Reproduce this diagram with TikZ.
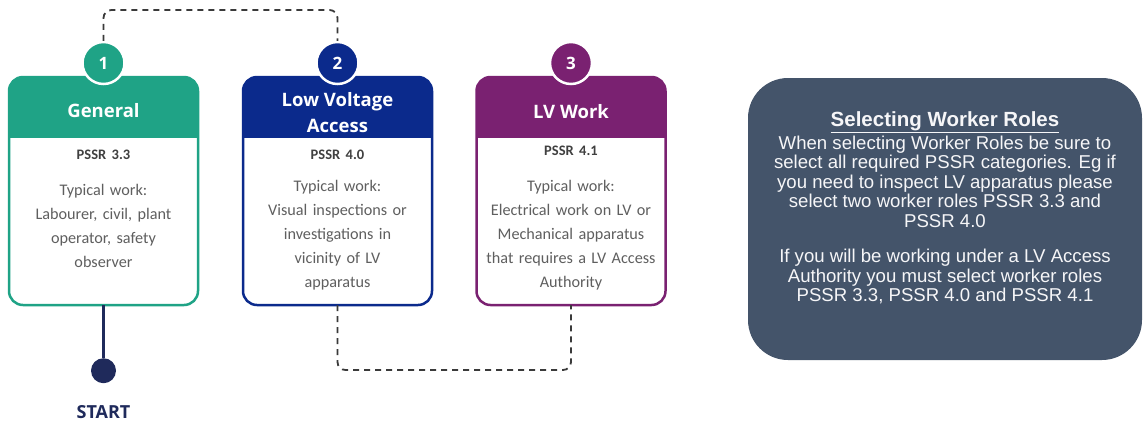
\documentclass[tikz,border=0pt]{standalone}
\usepackage{fontspec}
\setmainfont{Carlito}
\newfontfamily\headfont{Open Sans}
\newfontfamily\notefont{Liberation Sans}
\usetikzlibrary{positioning}

\definecolor{genGreen}{HTML}{1FA386}
\definecolor{lvaBlue}{HTML}{0B2A8C}
\definecolor{lvwPurple}{HTML}{7A2171}
\definecolor{noteSlate}{HTML}{44546A}
\definecolor{startNavy}{HTML}{1F2A5B}
\definecolor{bodyGrey}{HTML}{5F5F5F}
\definecolor{linkGrey}{HTML}{3A3A3A}

\begin{document}
\begin{tikzpicture}[x=1pt,y=-1pt,
  cardspot/.style={rectangle, inner sep=0pt, outer sep=0pt, minimum width=189pt, minimum height=228pt},
  numcirc/.style={circle, fill=#1, draw=white, line width=2.5pt, minimum size=42pt, inner sep=0pt,
    text=white, font=\headfont\bfseries\fontsize{17}{17}\selectfont},
  headtext/.style={text=white, align=center, inner sep=0pt, font=\headfont\bfseries\fontsize{18.5}{26}\selectfont},
  bodytext/.style={text=bodyGrey, align=center, inner sep=0pt, text width=186pt, font=\fontsize{16.2}{24}\selectfont},
  link/.style={draw=linkGrey, line width=1.8pt, dash pattern=on 6pt off 5pt, rounded corners=8pt},
  startdot/.style={circle, fill=startNavy, minimum size=25pt, inner sep=0pt},
  notebox/.style={rectangle, fill=noteSlate, rounded corners=40pt, minimum width=394pt, minimum height=282pt},
  notetext/.style={text=white!95!noteSlate, align=center, inner sep=0pt, font=\notefont\fontsize{18.6}{19.5}\selectfont}]
\useasboundingbox (0,0) rectangle (1144,424);

\node[cardspot] (b1) at (103.5,191) {};
\node[cardspot] (b2) at (337.5,191) {};
\node[cardspot] (b3) at (571,191) {};

\foreach \b/\col in {b1/genGreen, b2/lvaBlue, b3/lvwPurple} {
  \fill[white, rounded corners=14pt] (\b.north west) rectangle (\b.south east);
  \begin{scope}
    \clip[rounded corners=14pt] (\b.north west) rectangle (\b.south east);
    \fill[\col] (\b.north west) rectangle ([yshift=-61pt]\b.north east);
  \end{scope}
  \draw[\col, line width=2.5pt, rounded corners=14pt] (\b.north west) rectangle (\b.south east);
}

\node[numcirc=genGreen] (n1) at ([yshift=14pt]b1.north) {1};
\node[numcirc=lvaBlue] (n2) at ([yshift=14pt]b2.north) {2};
\node[numcirc=lvwPurple] (n3) at ([yshift=14pt]b3.north) {3};

\node[headtext] (t1) at ([yshift=-34pt]b1.north) {General};
\node[headtext] (t2) at ([yshift=-36pt]b2.north) {Low Voltage\\Access};
\node[headtext] (t3) at ([yshift=-35pt]b3.north) {LV Work};

\node[bodytext, below=73pt of b1.north] (d1) {{\fontsize{14.5}{24}\selectfont\bfseries\color{black!75}PSSR 3.3}\\[12pt]Typical work:\\Labourer, civil, plant\\operator, safety\\observer};
\node[bodytext, below=73pt of b2.north] (d2) {{\fontsize{14.5}{24}\selectfont\bfseries\color{black!75}PSSR 4.0}\\[8pt]Typical work:\\Visual inspections or\\investigations in\\vicinity of LV\\apparatus};
\node[bodytext, below=69pt of b3.north] (d3) {{\fontsize{14.5}{24}\selectfont\bfseries\color{black!75}PSSR 4.1}\\[12pt]Typical work:\\Electrical work on LV or\\Mechanical apparatus\\that requires a LV Access\\Authority};

\coordinate (topRun) at (0,10);
\coordinate (lowRun) at (0,370);
\draw[link] (n1.north) -- (n1.north |- topRun) -- (n2.north |- topRun) -- (n2.north);
\draw[link] (b2.south) -- (b2.south |- lowRun) -- (b3.south |- lowRun) -- (b3.south);

\node[startdot, below=53pt of b1] (startDot) {};
\draw[startNavy, line width=2.5pt] (b1.south) -- (startDot);
\node[below=22pt of startDot, inner sep=0pt, text=startNavy, font=\headfont\bfseries\fontsize{18}{18}\selectfont] (startLabel) {START};

\node[notebox] (note) at (945,219) {};
\node[notetext] (noteText) at (945,208) {{\bfseries\fontsize{20.5}{19.5}\selectfont\underline{Selecting Worker Roles}}\\[2pt]
When selecting Worker Roles be sure to\\
select all required PSSR categories. Eg if\\
you need to inspect LV apparatus please\\
select two worker roles PSSR 3.3 and\\
PSSR 4.0\\[16pt]
If you will be working under a LV Access\\
Authority you must select worker roles\\
PSSR 3.3, PSSR 4.0 and PSSR 4.1};
\end{tikzpicture}
\end{document}
